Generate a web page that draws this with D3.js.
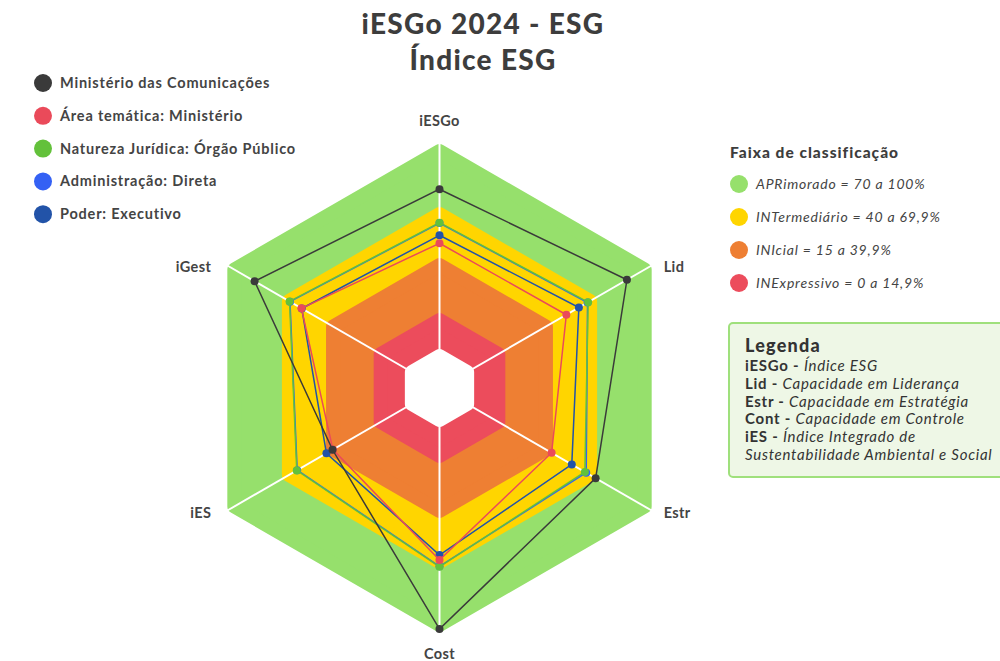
<!DOCTYPE html>
<meta charset="utf-8">

<head>
    <style>
        body {margin: 0; background-color: #ffffff;}
        text {font-family: Lato, "Open Sans", sans-serif;}
    </style>
    <title></title>
</head>

<body>
    <script src="https://d3js.org/d3.v7.min.js"></script>
    <script>

    // eixos do radar
    const axes = ["iESGo", "Lid", "Estr", "Cost", "iES", "iGest"];

    // series (valores em %)
    const seriesNames = ["Ministério das Comunicações", "Área temática: Ministério",
      "Natureza Jurídica: Órgão Público", "Administração: Direta", "Poder: Executivo"];
    const seriesColors = ["#3a3a3a", "#ea4a5a", "#63c13b", "#3461f4", "#2253a8"];
    const valMinisterio = [78.0, 86.4, 69.0, 98.1, 36.6, 85.0];
    const valAreaTematica = [48.1, 49.1, 39.3, 64.1, 36.4, 56.7];
    const valNatureza = [60.2, 63.9, 61.7, 68.1, 59.9, 64.8];
    const valAdministracao = [60.0, 63.5, 62.6, 67.8, 59.6, 64.5];
    const valPoder = [52.8, 57.6, 52.8, 61.2, 39.8, 56.5];
    const allValues = [valMinisterio, valAreaTematica, valNatureza, valAdministracao, valPoder];

    // faixas de classificação
    const bandLimits = [15, 40, 70, 100];
    const bandColors = ["#ec4c5c", "#ee7f33", "#ffd500", "#96e06c"];
    const bandLabels = ["INExpressivo = 0 a 14,9%", "INIcial = 15 a 39,9%",
      "INTermediário = 40 a 69,9%", "APRimorado = 70 a 100%"];

    // legenda de siglas
    const legendAbbr = ["iESGo", "Lid", "Estr", "Cont", "iES", ""];
    const legendDesc = ["Índice ESG", "Capacidade em Liderança", "Capacidade em Estratégia",
      "Capacidade em Controle", "Índice Integrado de", "Sustentabilidade Ambiental e Social"];

    const width = 1000, height = 661;
    const cx = 439.5, cy = 388;

    var svg = d3.select("body")
      .append("svg")
        .attr("width", width)
        .attr("height", height);

    // raio: escala linear por trechos nas faixas
    var rScale = d3.scaleLinear()
      .domain([0].concat(bandLimits))
      .range([40, 76, 131, 182, 245]);

    var angle = (i) => (-90 + i * 60) * Math.PI / 180;

    function hexPoints(r) {
      return axes.map((a, i) => [cx + r * Math.cos(angle(i)), cy + r * Math.sin(angle(i))]);
    }

    var round = 7;
    function drawHex(r, color) {
      var rr = r - round * 2 / Math.sqrt(3);
      svg.append("polygon")
        .attr("points", hexPoints(rr).map(p => p.join(",")).join(" "))
        .attr("fill", color)
        .attr("stroke", color)
        .attr("stroke-width", round * 2)
        .attr("stroke-linejoin", "round");
    }

    // faixas, de fora para dentro
    for (let i = bandLimits.length - 1; i >= 0; i--) {
      drawHex(rScale(bandLimits[i]), bandColors[i]);
    }
    drawHex(rScale(0), "#ffffff");

    // linhas dos eixos
    axes.forEach((a, i) => {
      svg.append("line")
        .attr("x1", cx).attr("y1", cy)
        .attr("x2", cx + rScale(100) * Math.cos(angle(i)))
        .attr("y2", cy + rScale(100) * Math.sin(angle(i)))
        .style("stroke", "#ffffff")
        .style("stroke-width", 2);
    });

    // rótulos dos eixos
    var labelDx = [0, 12, 12, 0, -16, -16];
    var labelDy = [-17, 6, 7, 26, 7, 6];
    var labelAnchor = ["middle", "start", "start", "middle", "end", "end"];
    axes.forEach((a, i) => {
      var r = rScale(100);
      svg.append("text")
        .attr("x", cx + r * Math.cos(angle(i)) + labelDx[i])
        .attr("y", cy + r * Math.sin(angle(i)) + labelDy[i])
        .attr("text-anchor", labelAnchor[i])
        .style("font-size", "14.5px")
        .style("font-weight", 700)
        .style("letter-spacing", "0.4px")
        .style("fill", "#444444")
        .text(a);
    });

    // series, desenhadas na ordem inversa
    var line = d3.line().curve(d3.curveLinearClosed);
    for (let s = allValues.length - 1; s >= 0; s--) {
      var pts = allValues[s].map((v, i) => [cx + rScale(v) * Math.cos(angle(i)), cy + rScale(v) * Math.sin(angle(i))]);
      svg.append("path")
        .attr("d", line(pts))
        .attr("fill", "none")
        .attr("stroke", seriesColors[s])
        .attr("stroke-width", 1.5);
      svg.append("g").selectAll("circle")
        .data(pts)
        .enter()
        .append("circle")
        .attr("cx", d => d[0])
        .attr("cy", d => d[1])
        .attr("r", 4)
        .attr("fill", seriesColors[s]);
    }

    // título
    svg.append("text")
      .attr("x", 483).attr("y", 34)
      .attr("text-anchor", "middle")
      .style("font-size", "28px").style("font-weight", 900).style("fill", "#3d3d3d")
      .style("letter-spacing", "1.3px")
      .text("iESGo 2024 - ESG");
    svg.append("text")
      .attr("x", 483).attr("y", 70)
      .attr("text-anchor", "middle")
      .style("font-size", "28px").style("font-weight", 900).style("fill", "#3d3d3d")
      .style("letter-spacing", "1.3px")
      .text("Índice ESG");

    // legenda das séries
    seriesNames.forEach((n, i) => {
      var y = 83 + i * 32.8;
      svg.append("circle").attr("cx", 43).attr("cy", y).attr("r", 9).attr("fill", seriesColors[i]);
      svg.append("text").attr("x", 60).attr("y", y + 5)
        .style("font-size", "14.5px").style("font-weight", 700).style("fill", "#444444")
        .style("letter-spacing", "0.8px")
        .text(n);
    });

    // faixa de classificação
    svg.append("text").attr("x", 730).attr("y", 158)
      .style("font-size", "15.5px").style("font-weight", 900).style("fill", "#3d3d3d")
      .style("letter-spacing", "1px")
      .text("Faixa de classificação");
    for (let i = 0; i < 4; i++) {
      var b = 3 - i;
      var y = 184 + i * 33;
      svg.append("circle").attr("cx", 739).attr("cy", y).attr("r", 9).attr("fill", bandColors[b]);
      svg.append("text").attr("x", 756).attr("y", y + 5)
        .style("font-size", "14px").style("font-style", "italic").style("fill", "#444444")
        .style("letter-spacing", "0.8px")
        .text(bandLabels[b]);
    }

    // caixa de legenda
    svg.append("rect")
      .attr("x", 729).attr("y", 323).attr("width", 290).attr("height", 154)
      .attr("rx", 4)
      .attr("fill", "#eef7e6").attr("stroke", "#9fe07c").attr("stroke-width", 2);
    svg.append("text").attr("x", 745).attr("y", 352)
      .style("font-size", "18px").style("font-weight", 900).style("fill", "#333333")
      .style("letter-spacing", "1.2px")
      .text("Legenda");
    legendDesc.forEach((d, i) => {
      var t = svg.append("text").attr("x", 745).attr("y", 371 + i * 17.8)
        .style("font-size", "15px").style("fill", "#333333")
        .style("letter-spacing", "0.75px");
      if (legendAbbr[i] != "") {
        t.append("tspan").style("font-weight", 700).text(legendAbbr[i] + " - ");
      }
      t.append("tspan").style("font-style", "italic").text(d);
    });

    </script>
</body>
</html>
